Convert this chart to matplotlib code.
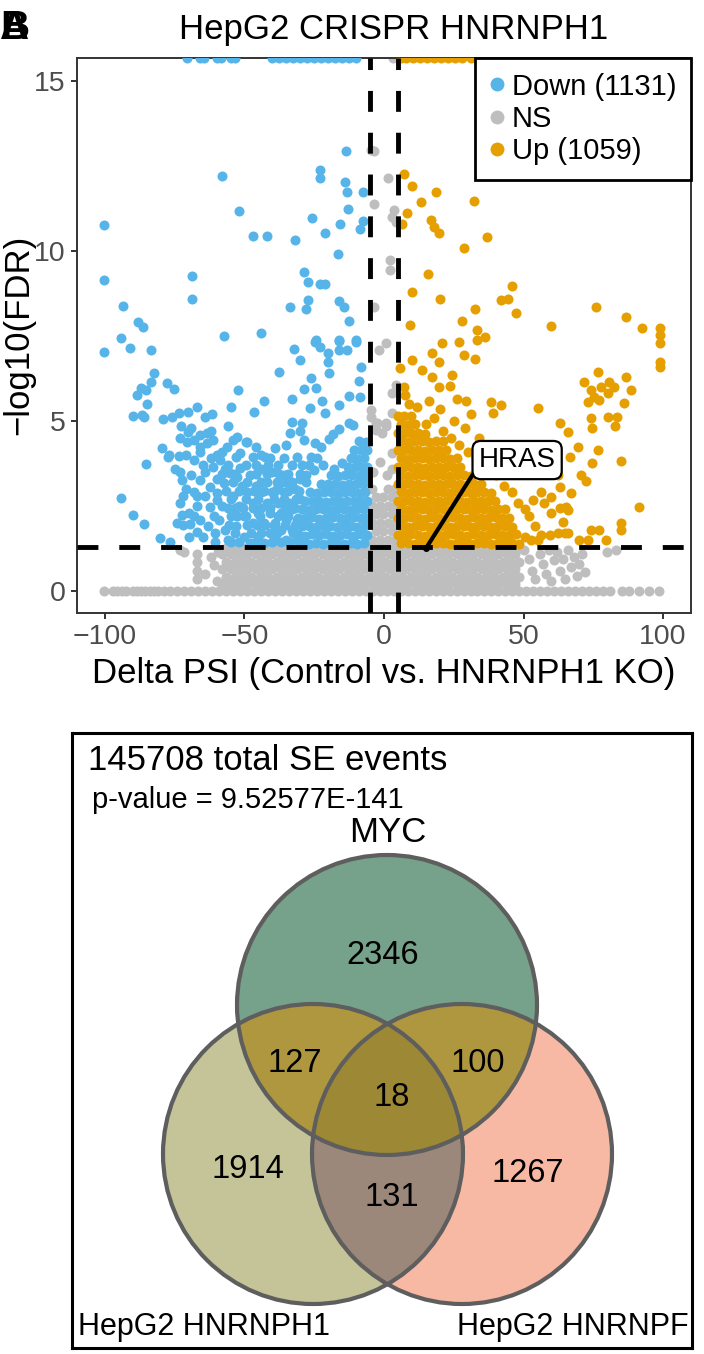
"""Volcano plot (HepG2 CRISPR HNRNPH1) and three-way Venn of SE events."""

import matplotlib
matplotlib.use("Agg")
import matplotlib.pyplot as plt
import numpy as np
from matplotlib.lines import Line2D
from matplotlib.patches import Circle

plt.rcParams["font.family"] = ["Liberation Sans", "DejaVu Sans"]

# ---------------------------------------------------------------- volcano data
# (delta PSI, -log10 FDR); 15.68 = capped at the panel top
down_pts = [
    (-70.5, 15.68), (-66, 15.68), (-64.5, 15.68), (-60, 15.68), (-58.5, 15.68),
    (-55, 15.68), (-53.5, 15.68), (-40, 15.68), (-37.5, 15.68), (-35, 15.68),
    (-32.5, 15.68), (-30, 15.68), (-27.5, 15.68), (-25, 15.68), (-22.5, 15.68),
    (-20, 15.68), (-17.5, 15.68), (-15, 15.68), (-12.5, 15.68), (-10, 15.68),
    (-13.6, 12.95), (-57.9, 12.2), (-23.1, 12.38), (-22.9, 12.16), (-14.0, 12.04),
    (-13.3, 11.74), (-7.4, 11.74), (-12.8, 11.23), (-51.9, 11.19), (-25.9, 10.96),
    (-15.7, 10.81), (-7.7, 10.88), (-8.5, 10.65), (-100.2, 10.76), (-46.9, 10.45),
    (-42.1, 10.45), (-21.1, 10.54), (-31.8, 10.32), (-16.6, 9.92), (-28.7, 9.37),
    (-27.2, 9.10), (-23.1, 9.02), (-21.1, 9.04), (-68.7, 9.28), (-100.2, 9.15),
    (-68.7, 8.59), (-27.2, 8.56), (-27.9, 8.29), (-33.8, 8.34), (-16.0, 8.53),
    (-14.2, 8.36), (-12.7, 7.94), (-93.6, 8.39), (-88.0, 7.92), (-86.2, 7.77),
    (-94.3, 7.45), (-57.5, 7.51), (-44.1, 7.58), (-24.3, 7.38), (-16.0, 7.38),
    (-10.1, 7.38), (-100.2, 7.02), (-91.0, 7.14), (-83.6, 7.09), (-82.4, 6.42),
    (-83.6, 6.16), (-87.2, 5.96), (-88.5, 5.76), (-85.4, 5.91), (-77.9, 6.11),
    (-75.1, 5.94), (-84.8, 5.50), (-90.1, 5.15), (-86.6, 5.18), (-86.0, 5.13),
    (-94.3, 2.73), (-89.9, 2.24), (-86.0, 1.96), (-85.2, 3.73), (-80.1, 1.55),
    (-76.5, 1.43), (-79.5, 4.20), (-77.1, 4.00), (-79.1, 5.05), (-75.9, 5.11),
    (-73.5, 5.23), (-70.2, 5.25), (-67.0, 5.42), (-64.1, 5.13), (-61.7, 5.21),
    (-72.7, 4.85), (-70.4, 4.69), (-52.2, 5.91), (-54.9, 5.42), (-46.6, 5.26),
    (-42.9, 5.60), (-37.7, 6.45), (-33.0, 5.65), (-32.4, 7.11), (-30.0, 6.79),
    (-28.8, 5.93), (-24.3, 5.96), (-26.1, 6.26), (-26.4, 5.37), (-22.3, 5.60),
    (-21.0, 5.24), (-24.9, 7.33), (-23.1, 7.19), (-20.0, 6.99), (-20.0, 6.74),
    (-19.8, 6.42), (-16.3, 7.36), (-16.0, 7.09), (-13.1, 7.09), (-9.9, 7.33),
    (-8.1, 6.58), (-9.1, 6.19), (-12.5, 5.74), (-8.5, 5.70), (-16.0, 5.47),
    (-12.7, 4.95), (-11.0, 4.87), (-32.9, 4.98), (-29.4, 4.95), (-33.8, 4.66),
    (-30.2, 4.71), (-55.8, 4.86), (-49.5, 4.39), (-45.7, 4.23), (-52.8, 4.52),
    (-16.0, 4.76), (-18.4, 4.62), (-19.6, 4.46), (-22.5, 4.24), (-24.9, 4.34),
    (-28.5, 4.44), (-77.5, 3.95), (-73.5, 3.97), (-73.0, 3.51), (-72.4, 3.26),
    (-72.4, 2.24), (-72.0, 1.94), (-69.4, 1.97), (-67.0, 1.74), (-64.7, 1.60),
    (-60.5, 1.70), (-60.7, 1.45), (-67.0, 2.50), (-67.0, 2.79), (-62.3, 2.48),
    (-59.9, 2.68), (-65.8, 3.26), (-62.3, 3.07), (-59.9, 2.87), (-57.5, 3.17),
    (-55.2, 3.46), (-52.8, 3.36), (-51.6, 3.61), (-68.2, 3.85), (-65.8, 4.10),
    (-63.5, 4.34), (-61.1, 3.66), (-58.7, 3.85), (-56.3, 4.24), (-54.0, 4.44),
    (-51.6, 4.05), (-49.2, 4.39), (-70.6, 4.39), (-68.2, 4.44), (-65.8, 4.24),
    (-63.5, 4.64), (-61.1, 4.44), (-44, 4.0), (-41, 3.9), (-39, 4.2), (-36, 3.9),
    (-35, 4.3), (-38, 3.7),
    (-74, 2.0), (-73, 2.6), (-71, 3.0), (-70, 2.3), (-69, 3.4), (-68, 2.9),
    (-66, 2.1), (-65, 3.7), (-64, 2.8), (-63, 1.9), (-62, 3.9), (-61, 2.2),
    (-60, 3.3), (-59, 2.1), (-58, 2.5), (-58, 4.1), (-57, 3.6), (-57, 1.8),
    (-71, 4.0), (-69, 4.8), (-66, 4.6), (-64, 3.5), (-62, 4.7), (-60, 4.0),
    (-75, 3.6), (-73, 4.5), (-72, 2.8), (-70, 1.6), (-68, 2.2),
    (-56, 1.5), (-55, 2.2), (-54, 2.8), (-53, 1.9), (-52, 2.5), (-51, 3.1),
    (-50, 1.6), (-50, 2.2), (-49, 2.9), (-48, 1.4), (-48, 3.4), (-47, 2.0),
    (-47, 2.6), (-46, 3.1), (-45, 1.6), (-45, 2.3), (-44, 2.9), (-44, 3.6),
    (-43, 1.4), (-43, 2.0), (-42, 2.6), (-42, 3.2), (-41, 1.7), (-41, 2.3),
    (-40, 2.9), (-40, 3.5), (-39, 1.5), (-39, 2.0), (-38, 2.6), (-38, 3.1),
    (-37, 1.8), (-37, 2.3), (-36, 2.9), (-36, 3.4), (-35, 1.5), (-35, 2.1),
    (-34, 2.6), (-34, 3.2), (-33, 1.8), (-33, 2.4), (-32, 3.0), (-31, 1.5),
    (-31, 2.1), (-30, 2.7), (-30, 3.3),
    (-55, 1.45), (-52, 1.45), (-46, 1.45), (-40, 1.45), (-37, 1.45), (-34, 1.45),
    (-53.5, 1.7), (-47.5, 1.7), (-44, 1.7), (-38.5, 1.7), (-32.5, 1.7),
    (-55.5, 1.95), (-49, 1.95), (-45.5, 1.95), (-42.5, 1.95), (-39.5, 1.95),
    (-35.5, 1.95), (-32, 1.95), (-52.5, 2.2), (-49.5, 2.2), (-44.5, 2.2),
    (-38, 2.2), (-34.5, 2.2), (-56, 2.45), (-53.5, 2.45), (-50.5, 2.45),
    (-47, 2.45), (-44, 2.45), (-41, 2.45), (-35.5, 2.45), (-32, 2.45),
    (-55, 2.7), (-49.5, 2.7), (-45, 2.7), (-39.5, 2.7), (-36, 2.7), (-31.5, 2.7),
    (-56.5, 2.95), (-52, 2.95), (-46.5, 2.95), (-43, 2.95), (-39, 2.95),
    (-34.5, 2.95), (-30.5, 2.95), (-54, 3.2), (-49, 3.2), (-44, 3.2),
    (-38.5, 3.2), (-35.5, 3.2), (-33, 3.2), (-28, 3.2), (-58, 3.45),
    (-53.5, 3.45), (-46, 3.45), (-42, 3.45), (-37.5, 3.45), (-34.5, 3.45),
    (-30, 3.45), (-56, 3.7), (-49.5, 3.7), (-46, 3.7), (-41.5, 3.7), (-33, 3.7),
    (-29.5, 3.7), (-27, 3.7), (-53, 3.95), (-47, 3.95), (-42.5, 3.95),
    (-31, 3.95), (-26, 3.95), (-28, 3.4), (-25, 3.55), (-22, 3.7), (-18, 3.6),
    (-15, 3.75), (-24, 3.9),
    (-29.5, 1.42), (-27, 1.38), (-24.5, 1.41), (-22, 1.37), (-19.5, 1.40),
    (-17, 1.42), (-14.5, 1.38), (-12, 1.41), (-9.5, 1.39), (-7, 1.40),
    (-30.7, 1.66), (-28.2, 1.63), (-25.7, 1.66), (-23.2, 1.64), (-20.7, 1.67),
    (-18.2, 1.63), (-15.7, 1.65), (-13.2, 1.66), (-10.7, 1.63), (-8.2, 1.66),
    (-6.0, 1.64), (-29.5, 1.90), (-27, 1.91), (-24.5, 1.88), (-22, 1.90),
    (-19.5, 1.92), (-17, 1.89), (-14.5, 1.90), (-12, 1.91), (-9.5, 1.88),
    (-7, 1.90), (-30.7, 2.15), (-28.2, 2.14), (-25.7, 2.16), (-23.2, 2.13),
    (-20.7, 2.15), (-18.2, 2.17), (-15.7, 2.14), (-13.2, 2.15), (-10.7, 2.16),
    (-8.2, 2.14), (-6.0, 2.15), (-29.5, 2.40), (-27, 2.38), (-24.5, 2.41),
    (-22, 2.40), (-19.5, 2.39), (-17, 2.41), (-14.5, 2.40), (-12, 2.38),
    (-9.5, 2.41), (-7, 2.40), (-28.2, 2.64), (-25.7, 2.66), (-23.2, 2.65),
    (-20.7, 2.63), (-18.2, 2.66), (-15.7, 2.65), (-13.2, 2.64), (-10.7, 2.66),
    (-8.2, 2.65), (-6.0, 2.64), (-26.5, 2.90), (-24, 2.88), (-21.5, 2.91),
    (-19, 2.90), (-16.5, 2.89), (-14, 2.91), (-11.5, 2.90), (-9, 2.88),
    (-6.8, 2.90), (-22.5, 3.14), (-20, 3.16), (-17.5, 3.15), (-15, 3.13),
    (-12.5, 3.15), (-10, 3.16), (-7.5, 3.14), (-6.0, 3.20), (-19, 3.40),
    (-16.5, 3.38), (-14, 3.41), (-11.5, 3.40), (-9, 3.39), (-6.8, 3.40),
    (-13, 3.64), (-10.5, 3.66), (-8.2, 3.65), (-6.0, 3.64), (-12, 3.90),
    (-9.5, 3.88), (-7, 3.90), (-10.7, 4.15), (-8.2, 4.14), (-6.0, 4.16),
    (-9, 4.40), (-6.5, 4.38),
]

up_pts = [
    (6, 15.68), (8, 15.68), (10.5, 15.68), (13, 15.68), (15.5, 15.68),
    (18, 15.68), (20.5, 15.68), (23, 15.68), (25.5, 15.68), (28, 15.68),
    (31, 15.68),
    (7.1, 12.28), (10.1, 11.92), (13.1, 11.43), (18.6, 11.74), (32.4, 11.46),
    (8.4, 11.11), (6.3, 10.81), (17.0, 10.91), (17.8, 10.72), (19.8, 10.54),
    (36.8, 10.42), (28.8, 10.08), (15.8, 9.32), (10.1, 8.79), (20.2, 8.59),
    (45.9, 8.97), (44.5, 8.59), (41.9, 8.56), (47.4, 8.17), (32.6, 8.29),
    (28.1, 7.94), (9.3, 7.82), (59.7, 7.80), (76.0, 8.36), (86.6, 8.07),
    (92.5, 7.73), (99.0, 7.73), (99.0, 7.53), (99.0, 7.28), (99.0, 6.74),
    (99.0, 6.60), (33.5, 7.68), (36.2, 7.48), (26.9, 7.33), (33.2, 7.38),
    (20.8, 7.30), (17.2, 6.99), (19.6, 6.74), (28.5, 6.94), (32.6, 6.81),
    (10.1, 6.79), (5.9, 6.55), (13.6, 6.50), (17.2, 6.30), (24.3, 6.35),
    (23.7, 6.03), (19.6, 6.01), (7.1, 6.01), (7.7, 5.76), (26.3, 5.64),
    (29.3, 5.60), (38.5, 5.57), (41.9, 5.47), (39.1, 5.23), (55.2, 5.37),
    (76.5, 6.45), (80.7, 6.16), (77.7, 6.01), (82.5, 6.01), (71.8, 6.16),
    (74.1, 5.91), (73.0, 5.57), (75.3, 5.71), (77.1, 5.62), (80.1, 5.81),
    (86.0, 5.52), (83.6, 5.13), (86.6, 6.30), (88.4, 5.91), (82.8, 4.85),
    (80.1, 5.13), (74.1, 5.08), (74.7, 4.79), (65.8, 4.69), (69.4, 4.24),
    (66.5, 3.95), (76.5, 4.15), (84.8, 3.83), (67.0, 2.87), (65.8, 2.38),
    (64.1, 2.04), (91.3, 2.46), (84.8, 1.99), (84.8, 1.79), (74.1, 1.79),
    (77.1, 1.79), (79.5, 1.50), (70.0, 1.50), (56.3, 2.92), (62.9, 3.07),
    (57.5, 2.58), (62.9, 2.43), (59.9, 2.29), (64.7, 1.70), (62.3, 1.70),
    (65.8, 1.70), (74.7, 3.76), (70.6, 3.41), (72.4, 3.22), (62.9, 4.93),
    (60.5, 3.61), (62.3, 3.41), (53.4, 2.68), (59.9, 2.77), (65.2, 2.48),
    (59.3, 1.65), (56.3, 1.65), (52.8, 1.50), (55.2, 1.50), (50.4, 1.60),
    (73.0, 1.50), (52, 2.2), (54, 1.9), (50.5, 2.4),
    (15, 4.9), (18, 5.1), (21, 4.7), (24, 4.5), (27, 4.3), (30, 4.1), (33, 3.9),
    (36, 3.6), (40, 3.4), (43, 3.1), (46, 2.9), (48, 2.6), (12, 5.4), (9, 5.5),
    (16, 5.6), (20, 5.35), (25, 5.0), (29, 4.8), (34, 4.5), (38, 4.2), (42, 3.8),
    (31, 5.2),
    (6, 1.40), (8.5, 1.42), (11, 1.38), (13.5, 1.41), (16, 1.39), (18.5, 1.40),
    (21, 1.42), (23.5, 1.38), (26, 1.41), (28.5, 1.40), (31, 1.39), (33.5, 1.41),
    (36, 1.40), (38.5, 1.38), (41, 1.41), (43.5, 1.40), (46, 1.42), (48.5, 1.39),
    (4.9, 1.65), (7.3, 1.64), (9.8, 1.66), (12.3, 1.65), (14.8, 1.63),
    (17.3, 1.66), (19.8, 1.65), (22.3, 1.64), (24.8, 1.66), (27.3, 1.65),
    (29.8, 1.63), (32.3, 1.66), (34.8, 1.65), (37.3, 1.64), (39.8, 1.66),
    (42.3, 1.65), (44.8, 1.64), (47.3, 1.66),
    (6, 1.90), (8.5, 1.89), (11, 1.91), (13.5, 1.90), (16, 1.88), (18.5, 1.91),
    (21, 1.90), (23.5, 1.89), (26, 1.91), (28.5, 1.90), (31, 1.88), (33.5, 1.91),
    (36, 1.90), (38.5, 1.89), (41, 1.91), (43.5, 1.90), (46, 1.88),
    (4.9, 2.15), (7.3, 2.14), (9.8, 2.16), (12.3, 2.15), (14.8, 2.13),
    (17.3, 2.16), (19.8, 2.15), (22.3, 2.14), (24.8, 2.16), (27.3, 2.15),
    (29.8, 2.13), (32.3, 2.16), (34.8, 2.15), (37.3, 2.14), (39.8, 2.16),
    (42.3, 2.15), (44.8, 2.14),
    (6, 2.40), (8.5, 2.39), (11, 2.41), (13.5, 2.40), (16, 2.38), (18.5, 2.41),
    (21, 2.40), (23.5, 2.39), (26, 2.41), (28.5, 2.40), (31, 2.38), (33.5, 2.41),
    (36, 2.40), (38.5, 2.39), (41, 2.41), (43.5, 2.40),
    (4.9, 2.65), (7.3, 2.64), (9.8, 2.66), (12.3, 2.65), (14.8, 2.63),
    (17.3, 2.66), (19.8, 2.65), (22.3, 2.64), (24.8, 2.66), (27.3, 2.65),
    (29.8, 2.63), (32.3, 2.66), (34.8, 2.65), (37.3, 2.64), (39.8, 2.66),
    (6, 2.90), (8.5, 2.89), (11, 2.91), (13.5, 2.90), (16, 2.88), (18.5, 2.91),
    (21, 2.90), (23.5, 2.89), (26, 2.91), (28.5, 2.90), (31, 2.88), (33.5, 2.91),
    (36, 2.90), (38.5, 2.89),
    (4.9, 3.15), (7.3, 3.14), (9.8, 3.16), (12.3, 3.15), (14.8, 3.13),
    (17.3, 3.16), (19.8, 3.15), (22.3, 3.14), (24.8, 3.16), (27.3, 3.15),
    (29.8, 3.13), (32.3, 3.16), (34.8, 3.15),
    (6, 3.40), (8.5, 3.39), (11, 3.41), (13.5, 3.40), (16, 3.38), (18.5, 3.41),
    (21, 3.40), (23.5, 3.39), (26, 3.41), (28.5, 3.40), (31, 3.38),
    (4.9, 3.65), (7.3, 3.64), (9.8, 3.66), (12.3, 3.65), (14.8, 3.63),
    (17.3, 3.66), (19.8, 3.65), (22.3, 3.64), (24.8, 3.66), (27.3, 3.65),
    (6, 3.90), (8.5, 3.89), (11, 3.91), (13.5, 3.90), (16, 3.88), (18.5, 3.91),
    (21, 3.90), (23.5, 3.89), (26, 3.91),
    (4.9, 4.15), (7.3, 4.14), (9.8, 4.16), (12.3, 4.15), (14.8, 4.13),
    (17.3, 4.16), (19.8, 4.15), (22.3, 4.14),
    (6, 4.40), (8.5, 4.39), (11, 4.41), (13.5, 4.40), (16, 4.38), (18.5, 4.41),
    (21, 4.40), (4.9, 4.65), (7.3, 4.64), (9.8, 4.66), (12.3, 4.65), (14.8, 4.63),
    (6, 4.90), (8.5, 4.89), (11, 4.91), (4.9, 5.15), (7.3, 5.14), (9.8, 5.16),
]

ns_pts = [
    (3.2, 15.68), (4.6, 15.68),
    (-3.6, 12.95), (-4.7, 12.97), (1.5, 12.16), (-3.6, 11.37), (3.6, 11.2),
    (3.0, 11.0), (4.2, 10.86), (2.0, 9.75), (2.0, 9.44), (-3.6, 8.36),
    (-1.8, 7.09), (0.6, 7.28), (2.9, 5.81), (2.9, 5.23), (-4.7, 5.32),
    (-4.7, 5.13), (-3.0, 4.93), (-3.0, 4.74), (0.6, 4.93), (0.6, 4.84),
    (2.9, 4.05), (4.2, 6.06), (-2.4, 4.93), (-0.6, 4.64), (-1.5, 3.8),
    (3.0, 3.6), (-4.0, 3.5), (1.0, 3.4),
    (-4.3, 1.5), (-1.5, 1.5), (1.3, 1.5), (4.1, 1.5), (-3.0, 1.75), (-0.2, 1.75),
    (2.7, 1.75), (-4.3, 2.0), (-1.5, 2.0), (1.3, 2.0), (4.1, 2.0), (-3.0, 2.25),
    (-0.2, 2.25), (2.7, 2.25), (-4.3, 2.5), (-1.5, 2.5), (1.3, 2.5), (4.1, 2.5),
    (-3.0, 2.75), (-0.2, 2.75), (2.7, 2.75), (-4.3, 3.0), (1.3, 3.0), (4.1, 3.0),
    (-73, 1.2), (-71.5, 1.15), (-67, 1.1), (-67, 0.85), (-67, 0.6), (-67, 0.35),
    (-64, 0.5), (-62, 1.0), (-61, 0.75), (-60, 0.3), (-59.5, 1.15),
    (50, 1.2), (52, 0.95), (53, 0.6), (54, 0.35), (56, 1.1), (57, 0.8), (58, 0.5),
    (59, 1.2), (60, 0.3), (61, 0.9), (62, 1.15), (63, 0.6), (64, 0.95), (65, 0.35),
    (66, 1.2), (67, 0.7), (68, 1.0), (69, 0.45), (70, 0.8), (71, 1.1), (72, 0.55),
    (80, 1.15), (83, 1.2),
]
# the zero row (FDR = 1)
ns_zero_x = [
    -100.5, -97, -95.5, -94, -92.5, -90, -88.5, -87, -85.5, -84, -82.5, -81,
    -79, -76.5, -74, -71.5, -69, -66.5, -64, -61.5, -59, -56.5, -54, -51.5,
    -49, -46.5, -44, -41.5, -39, -36.5, -34, -31.5, -29, -26.5, -24, -21.5,
    -19, -16.5, -14, -11.5, -9, -6.5, -4, -1.5, 1, 3.5, 6, 8.5, 11, 13.5, 16,
    18.5, 21, 23.5, 26, 28.5, 31, 33.5, 36, 38.5, 41, 43.5, 46, 48.5, 51, 53.5,
    56, 58.5, 61, 63.5, 66, 68.5, 71, 73.5, 76, 78.5, 81, 85.4, 87.8, 91.3,
    94.9, 98.5,
]
# the dense NS band under the FDR cut-off
ns_band_x_a = [
    -58, -55, -52, -49, -46, -43, -40, -37, -34, -31, -28, -25, -22, -19, -16,
    -13, -10, -7, -4, -1, 2, 5, 8, 11, 14, 17, 20, 23, 26, 29, 32, 35, 38, 41,
    44, 47,
]
ns_band_x_b = [
    -56.5, -53.5, -50.5, -47.5, -44.5, -41.5, -38.5, -35.5, -32.5, -29.5,
    -26.5, -23.5, -20.5, -17.5, -14.5, -11.5, -8.5, -5.5, -2.5, 0.5, 3.5, 6.5,
    9.5, 12.5, 15.5, 18.5, 21.5, 24.5, 27.5, 30.5, 33.5, 36.5, 39.5, 42.5,
    45.5, 48.5,
]
ns_band_y_a = [0.2, 0.64, 1.08]
ns_band_y_b = [0.42, 0.86, 1.27]

n_down = 1131
n_up = 1059
dpsi_cut = 5
fdr_cut = 1.301  # -log10(0.05)
hras_xy = (15, 1.25)

# ------------------------------------------------------------------ venn data
venn_set_names = ["MYC", "HepG2 HNRNPH1", "HepG2 HNRNPF"]
venn_region_counts = [2346, 127, 100, 18, 1914, 131, 1267]
total_events = 145708
p_value = "9.52577E-141"

BLUE = "#56B4E9"
ORANGE = "#E69F00"
GREY = "#BEBEBE"
TICK_GREY = "#4D4D4D"

W, H = 704, 1354
fig = plt.figure(figsize=(W / 100, H / 100), dpi=100)


def fy(py):
    """Pixel row (from top) -> figure fraction."""
    return 1 - py / H


# ---------------------------------------------------------------- volcano
ax = fig.add_axes([77 / W, fy(613), 614 / W, 555 / H])

ns_x = [p[0] for p in ns_pts] + ns_zero_x
ns_y = [p[1] for p in ns_pts] + [0.0] * len(ns_zero_x)
for yv in ns_band_y_a:
    ns_x += ns_band_x_a
    ns_y += [yv] * len(ns_band_x_a)
for yv in ns_band_y_b:
    ns_x += ns_band_x_b
    ns_y += [yv] * len(ns_band_x_b)

ax.scatter(ns_x, ns_y, s=52, color=GREY, linewidths=0, zorder=2)
ax.scatter([p[0] for p in down_pts], [p[1] for p in down_pts], s=52,
           color=BLUE, linewidths=0, zorder=3)
ax.scatter([p[0] for p in up_pts], [p[1] for p in up_pts], s=52,
           color=ORANGE, linewidths=0, zorder=3)

for xv in (-dpsi_cut, dpsi_cut):
    ax.axvline(xv, color="black", lw=3.5, dashes=(4.3, 4.3), zorder=4)
ax.axhline(fdr_cut, color="black", lw=3.5, dashes=(4.3, 4.3), zorder=4)

ax.plot(*hras_xy, "o", color="black", ms=4, zorder=6)
ax.annotate(
    "HRAS", xy=hras_xy, xytext=(47.7, 3.85), fontsize=20, ha="center",
    va="center", zorder=6,
    bbox=dict(boxstyle="round,pad=0.22,rounding_size=0.3", fc="white",
              ec="black", lw=1.6),
    arrowprops=dict(arrowstyle="-", lw=3, color="black", shrinkA=0,
                    shrinkB=0, relpos=(0.0, 0.3)),
)

ax.set_xlim(-110, 110)
ax.set_ylim(-0.65, 15.68)
ax.set_xticks([-100, -50, 0, 50, 100])
ax.set_yticks([0, 5, 10, 15])
ax.tick_params(labelsize=20.5, labelcolor=TICK_GREY, color="#333333",
               length=4, width=1.4, pad=4)
for sp in ax.spines.values():
    sp.set_color("#333333")
    sp.set_linewidth(1.4)

handles = [
    Line2D([], [], ls="", marker="o", ms=10, color=c, mec="none")
    for c in (BLUE, GREY, ORANGE)
]
leg = ax.legend(
    handles, [f"Down ({n_down})", "NS", f"Up ({n_up})"], loc="upper right",
    bbox_to_anchor=(1, 1), borderaxespad=0, fontsize=21, frameon=True,
    fancybox=False, edgecolor="black", framealpha=1, handlelength=0.5,
    handletextpad=0.25, borderpad=0.5, labelspacing=0.15,
)
leg.get_frame().set_linewidth(2)
leg.set_zorder(10)

fig.text(394 / W, fy(30), "HepG2 CRISPR HNRNPH1", ha="center", va="center",
         fontsize=25)
fig.text(384 / W, fy(673), "Delta PSI (Control vs. HNRNPH1 KO)", ha="center",
         va="center", fontsize=25)
fig.text(19 / W, fy(335), "\u2212log10(FDR)", ha="center", va="center",
         rotation=90, fontsize=25)
for letter in ("A", "B"):
    fig.text(0, fy(28), letter, ha="left", va="center", fontsize=29,
             fontweight="bold")

# ---------------------------------------------------------------- venn
x0, x1, y0, y1 = 72, 692, 733, 1348
vax = fig.add_axes([x0 / W, fy(y1), (x1 - x0) / W, (y1 - y0) / H])
vax.set_xlim(x0, x1)
vax.set_ylim(y1, y0)
vax.set_xticks([])
vax.set_yticks([])
for sp in vax.spines.values():
    sp.set_color("black")
    sp.set_linewidth(2.2)

circles = [((387, 1005), 150), ((313, 1154), 150), ((462, 1154), 150)]
region_colors = {
    0: "#FFFFFF",
    1: "#76A18A",  # MYC only
    2: "#C4C498",  # HNRNPH1 only
    4: "#F8B9A4",  # HNRNPF only
    3: "#AE973F",  # MYC & HNRNPH1
    5: "#AE973F",  # MYC & HNRNPF
    6: "#9C877B",  # HNRNPH1 & HNRNPF
    7: "#9C8835",  # all three
}
gx, gy = np.meshgrid(np.arange(x0, x1) + 0.5, np.arange(y0, y1) + 0.5)
code = np.zeros(gx.shape, dtype=int)
for bit, ((cx, cy), r) in zip((1, 2, 4), circles):
    code += bit * (((gx - cx) ** 2 + (gy - cy) ** 2) <= r ** 2)
rgb = np.zeros(gx.shape + (3,))
for k, c in region_colors.items():
    rgb[code == k] = matplotlib.colors.to_rgb(c)
vax.imshow(rgb, extent=(x0, x1, y1, y0), interpolation="nearest",
           aspect="auto", zorder=1)
for (cx, cy), r in circles:
    vax.add_patch(Circle((cx, cy), r, fill=False, ec="#5E5E5E", lw=3,
                         zorder=2))

region_xy = [(383, 955), (295, 1063), (478, 1063), (392, 1097), (248, 1170),
             (392, 1198), (528, 1173)]
for (tx, ty), n in zip(region_xy, venn_region_counts):
    vax.text(tx, ty, str(n), ha="center", va="center", fontsize=23.5, zorder=3)

vax.text(388, 833, venn_set_names[0], ha="center", va="center", fontsize=25)
vax.text(78, 1327, venn_set_names[1], ha="left", va="center", fontsize=22)
vax.text(689, 1327, venn_set_names[2], ha="right", va="center", fontsize=22)
vax.text(88, 760, f"{total_events} total SE events", ha="left", va="center",
         fontsize=25)
vax.text(92, 800, f"p-value = {p_value}", ha="left", va="center", fontsize=21)

fig.savefig("out.png", dpi=100)
